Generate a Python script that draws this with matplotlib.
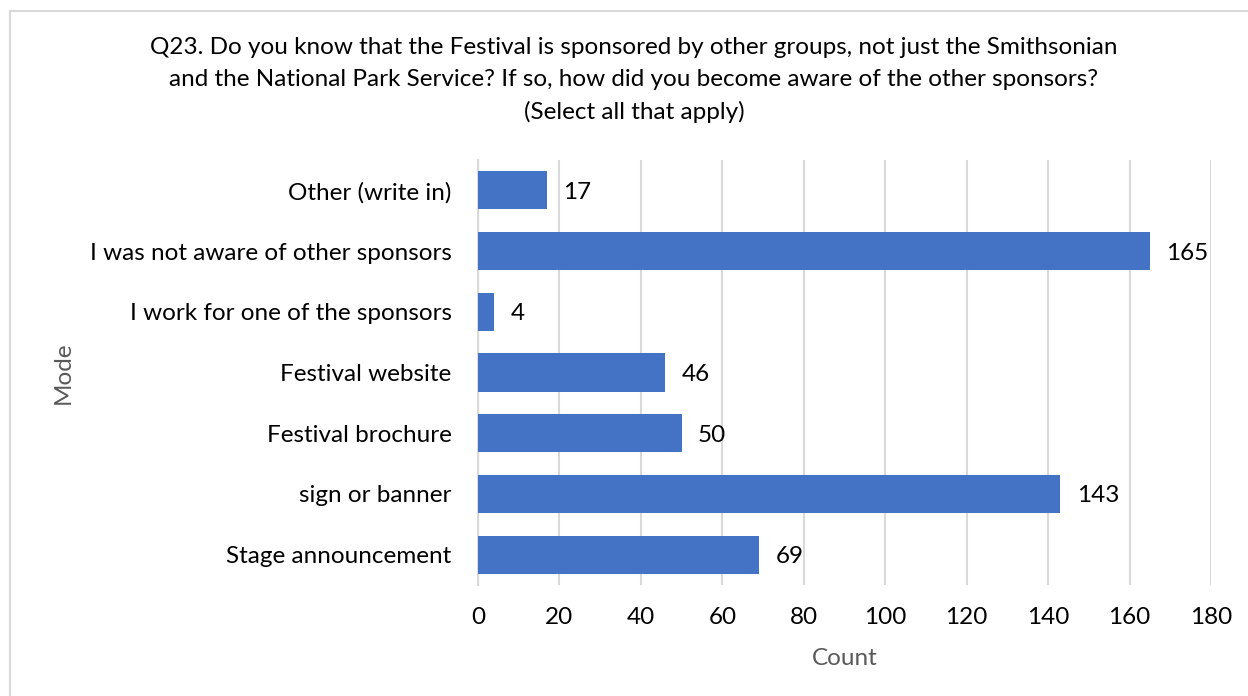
import matplotlib.pyplot as plt
from matplotlib.patches import Rectangle

categories = [
    "Stage announcement",
    "sign or banner",
    "Festival brochure",
    "Festival website",
    "I work for one of the sponsors",
    "I was not aware of other sponsors",
    "Other (write in)",
]
counts = [69, 143, 50, 46, 4, 165, 17]
x_ticks = [0, 20, 40, 60, 80, 100, 120, 140, 160, 180]

title = ("Q23. Do you know that the Festival is sponsored by other groups, not just the Smithsonian\n"
         "and the National Park Service? If so, how did you become aware of the other sponsors?\n"
         "(Select all that apply)")

plt.rcParams['font.family'] = ['Lato', 'DejaVu Sans']

W, H = 1248, 696
fig = plt.figure(figsize=(W / 100, H / 100), dpi=100)
fig.patch.set_facecolor('white')

# chart-area border
fig.add_artist(Rectangle((10 / W, -0.01), 1.05, 1 - 11 / H + 0.01,
                         transform=fig.transFigure, fill=False,
                         edgecolor='#d9d9d9', linewidth=1.5))

ax = fig.add_axes([478 / W, 1 - 585 / H, (1211 - 478) / W, (585 - 160) / H])

bar_color = '#4472C4'
ypos = range(len(categories))
ax.barh(ypos, counts, height=0.63, color=bar_color, zorder=3)

for y, v in zip(ypos, counts):
    ax.text(v + 4, y, str(v), va='center_baseline', ha='left', fontsize=17.5, color='black')

ax.set_xlim(0, 180)
ax.set_ylim(-0.5, len(categories) - 0.5)
ax.set_xticks(x_ticks)
ax.set_yticks(list(ypos))
ax.set_yticklabels(categories, va='center_baseline')
ax.tick_params(axis='both', length=0, labelsize=17.5, colors='black')
ax.tick_params(axis='x', pad=16)
ax.tick_params(axis='y', pad=19)

ax.grid(axis='x', color='#d9d9d9', linewidth=1.5, zorder=0)
ax.grid(axis='y', visible=False)
for s in ['top', 'right', 'bottom']:
    ax.spines[s].set_visible(False)
ax.spines['left'].set_color('#d9d9d9')
ax.spines['left'].set_linewidth(1.5)

ax.set_xlabel('Count', fontsize=17.5, color='#595959', labelpad=14)
fig.text(63 / W, 1 - 373 / H, 'Mode', rotation=90, fontsize=17.5,
         color='#595959', ha='center', va='center')

fig.text(634 / W, 1 - 80 / H, title, ha='center', va='center',
         fontsize=17.5, color='black', linespacing=1.64)

fig.savefig('out.png', dpi=100, facecolor='white')
